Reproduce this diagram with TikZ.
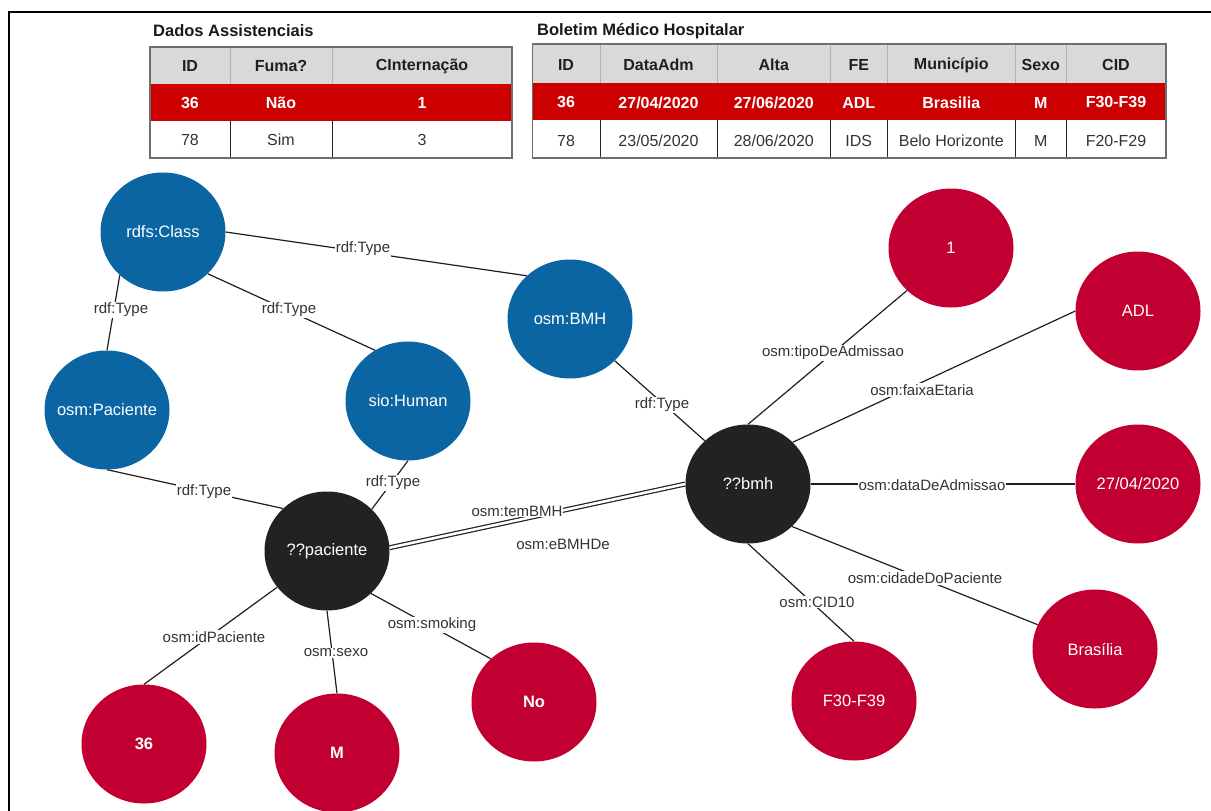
\documentclass[tikz,border=0pt]{standalone}
\usepackage{fontspec}
\setmainfont{Liberation Sans}
\usetikzlibrary{shapes.geometric}
\definecolor{clsblue}{HTML}{0B65A3}
\definecolor{litred}{HTML}{C10031}
\definecolor{varblack}{HTML}{222222}
\definecolor{rowred}{HTML}{CC0000}
\definecolor{headgray}{HTML}{D9D9D9}
\definecolor{framegray}{HTML}{6E6E6E}
\definecolor{labelgray}{HTML}{333333}
% node text that does not widen its circle
\newcommand\ctext[1]{\makebox[0pt]{#1}}

\begin{document}
\begin{tikzpicture}[x=1pt,y=-1pt,
  gnode/.style={ellipse, minimum width=125pt, minimum height=119pt, inner sep=0pt,
    text=white, font=\fontsize{16.5}{19}\selectfont},
  classnode/.style={gnode, fill=clsblue},
  literalnode/.style={gnode, fill=litred},
  varnode/.style={gnode, fill=varblack},
  link/.style={draw=black!88, line width=1.2pt},
  biglink/.style={draw=black!88, line width=1.2pt, double=white, double distance=2.6pt},
  elabel/.style={fill=white, inner sep=1pt, text=labelgray, font=\fontsize{15}{17}\selectfont},
  ttitle/.style={anchor=west, inner sep=0pt, font=\fontsize{16.5}{19}\selectfont\bfseries, text=black!90},
  thead/.style={inner sep=0pt, font=\fontsize{16}{18}\selectfont\bfseries, text=black!88},
  tred/.style={inner sep=0pt, font=\fontsize{16}{18}\selectfont\bfseries, text=white},
  tcell/.style={inner sep=0pt, font=\fontsize{16}{18}\selectfont, text=labelgray}
]
\useasboundingbox (0,0) rectangle (1211,811);

% outer frame (top and left edges)
\draw[black, line width=2.5pt] (9,811) -- (9,12) -- (1211,12);

% ---------- table: Dados Assistenciais ----------
\node[ttitle] (t1title) at (153,31) {Dados Assistenciais};
\fill[headgray] (150,47) rectangle (512,84);
\fill[rowred] (150,84) rectangle (512,121);
\draw[black!30, line width=0.8pt] (230,47) -- (230,84) (332,47) -- (332,84);
\draw[black!85, line width=1pt] (230,121) -- (230,158) (332,121) -- (332,158);
\draw[framegray, line width=1.5pt] (150,47) rectangle (512,158);
\node[thead] (t1h1) at (190,66) {ID};
\node[thead] (t1h2) at (281,66) {Fuma?};
\node[thead] (t1h3) at (422,66) {CInternação};
\node[tred] (t1r1) at (190,103) {36};
\node[tred] (t1r2) at (281,103) {Não};
\node[tred] (t1r3) at (422,103) {1};
\node[tcell] (t1c1) at (190,140) {78};
\node[tcell] (t1c2) at (281,140) {Sim};
\node[tcell] (t1c3) at (422,140) {3};

% ---------- table: Boletim Médico Hospitalar ----------
\node[ttitle] (t2title) at (537,31) {Boletim Médico Hospitalar};
\fill[headgray] (532.5,44) rectangle (1166,83.3);
\fill[rowred] (532.5,83.3) rectangle (1166,120);
\draw[black!30, line width=0.8pt]
  (600,44) -- (600,83.3) (717,44) -- (717,83.3) (830.5,44) -- (830.5,83.3)
  (887,44) -- (887,83.3) (1015.5,44) -- (1015.5,83.3) (1066,44) -- (1066,83.3);
\draw[black!85, line width=1pt]
  (600,120) -- (600,158) (717,120) -- (717,158) (830.5,120) -- (830.5,158)
  (887,120) -- (887,158) (1015.5,120) -- (1015.5,158) (1066,120) -- (1066,158);
\draw[framegray, line width=1.5pt] (532.5,44) rectangle (1166,158);
\node[thead] (t2h1) at (566,65) {ID};
\node[thead] (t2h2) at (658.5,65) {DataAdm};
\node[thead] (t2h3) at (773.8,65) {Alta};
\node[thead] (t2h4) at (858.8,65) {FE};
\node[thead] (t2h5) at (951.3,65) {Município};
\node[thead] (t2h6) at (1040.8,65) {Sexo};
\node[thead] (t2h7) at (1116,65) {CID};
\node[tred] (t2r1) at (566,102.5) {36};
\node[tred] (t2r2) at (658.5,102.5) {27/04/2020};
\node[tred] (t2r3) at (773.8,102.5) {27/06/2020};
\node[tred] (t2r4) at (858.8,102.5) {ADL};
\node[tred] (t2r5) at (951.3,102.5) {Brasilia};
\node[tred] (t2r6) at (1040.8,102.5) {M};
\node[tred] (t2r7) at (1116,102.5) {F30-F39};
\node[tcell] (t2c1) at (566,140.5) {78};
\node[tcell] (t2c2) at (658.5,140.5) {23/05/2020};
\node[tcell] (t2c3) at (773.8,140.5) {28/06/2020};
\node[tcell] (t2c4) at (858.8,140.5) {IDS};
\node[tcell] (t2c5) at (951.3,140.5) {Belo Horizonte};
\node[tcell] (t2c6) at (1040.8,140.5) {M};
\node[tcell] (t2c7) at (1116,140.5) {F20-F29};

% ---------- graph nodes ----------
\node[classnode] (cls)   at (163,232) {\ctext{rdfs:Class}};
\node[classnode] (bmhc)  at (570,319) {\ctext{osm:BMH}};
\node[classnode] (pacc)  at (107,410) {\ctext{osm:Paciente}};
\node[classnode] (human) at (408,401) {\ctext{sio:Human}};
\node[varnode]   (pac)   at (327,551) {\ctext{??paciente}};
\node[varnode]   (bmh)   at (748,484) {\ctext{??bmh}};
\node[literalnode] (adm)  at (951,248) {\ctext{1}};
\node[literalnode] (adl)  at (1138,311) {\ctext{ADL}};
\node[literalnode] (date) at (1138,484) {\ctext{27/04/2020}};
\node[literalnode] (city) at (1095,649) {\ctext{Brasília}};
\node[literalnode] (cid)  at (854,701) {\ctext{F30-F39}};
\node[literalnode] (smk)  at (534,702) {\ctext{\bfseries No}};
\node[literalnode] (sex)  at (337,753) {\ctext{\bfseries M}};
\node[literalnode] (pid)  at (144,744) {\ctext{\bfseries 36}};

% ---------- connectors ----------
\draw[link] (cls.0) -- (bmhc.135);
\draw[link] (cls.225) -- (pacc.90);
\draw[link] (cls.317) -- (human.123);
\draw[link] (pacc.270) -- (pac.136);
\draw[link] (human.270) -- (pac.43);
\draw[link] (bmhc.317) -- (bmh.135);
\draw[biglink] (pac.3) -- (bmh.180);
\draw[link] (bmh.90) -- (adm.224);
\draw[link] (bmh.43) -- (adl.180);
\draw[link] (bmh.0) -- (date.180);
\draw[link] (bmh.316) -- (city.157);
\draw[link] (bmh.270) -- (cid.90);
\draw[link] (pac.216) -- (pid.90);
\draw[link] (pac.270) -- (sex.90);
\draw[link] (pac.316) -- (smk.135);

% ---------- connector labels ----------
\node[elabel] (l1)  at (363,249) {rdf:Type};
\node[elabel] (l2)  at (121,310) {rdf:Type};
\node[elabel] (l3)  at (289,310) {rdf:Type};
\node[elabel] (l4)  at (204,492) {rdf:Type};
\node[elabel] (l5)  at (393,483) {rdf:Type};
\node[elabel] (l6)  at (662,405) {rdf:Type};
\node[elabel] (l7)  at (517,511) {osm:temBMH};
\node[elabel] (l8)  at (563,544) {osm:eBMHDe};
\node[elabel] (l9)  at (833,353) {osm:tipoDeAdmissao};
\node[elabel] (l10) at (922,390) {osm:faixaEtaria};
\node[elabel] (l11) at (932,485) {osm:dataDeAdmissao};
\node[elabel] (l12) at (925,578) {osm:cidadeDoPaciente};
\node[elabel] (l13) at (817,602) {osm:CID10};
\node[elabel] (l14) at (214,637) {osm:idPaciente};
\node[elabel] (l15) at (336,653) {osm:sexo};
\node[elabel] (l16) at (432,625) {osm:smoking};
\end{tikzpicture}
\end{document}
